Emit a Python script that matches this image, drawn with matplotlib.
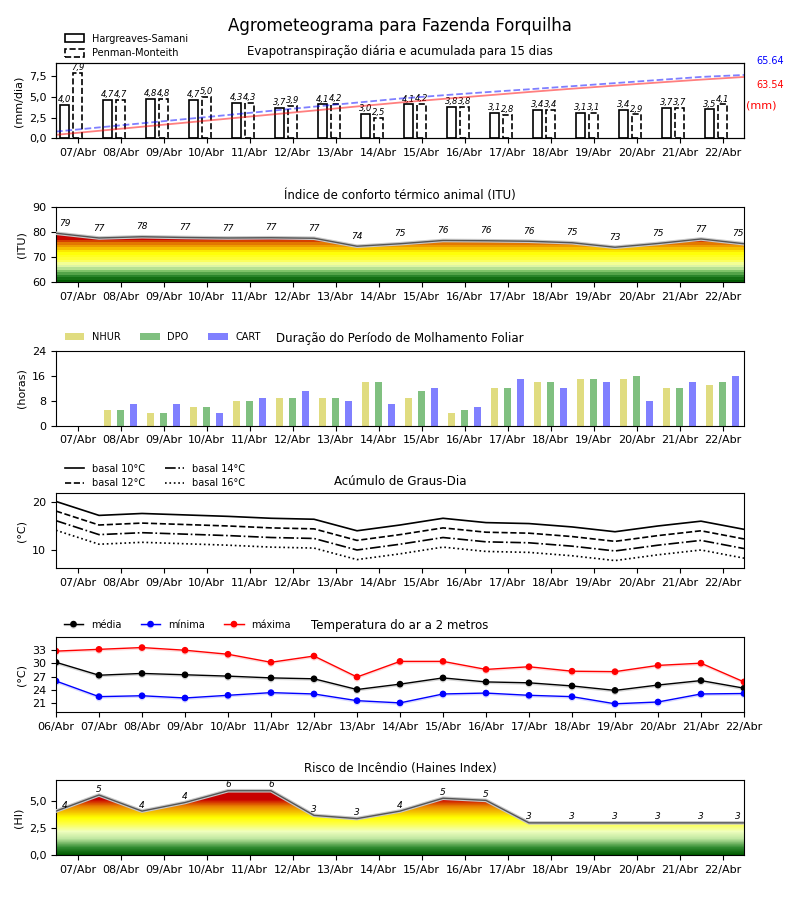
import numpy as np
import matplotlib
matplotlib.use('Agg')
import matplotlib.pyplot as plt
from matplotlib.colors import LinearSegmentedColormap
from matplotlib.patches import Polygon, Patch
from matplotlib.lines import Line2D
from matplotlib.ticker import FuncFormatter
import matplotlib.patheffects as pe

# ---------------- data ----------------
days = ['07/Abr', '08/Abr', '09/Abr', '10/Abr', '11/Abr', '12/Abr', '13/Abr', '14/Abr',
        '15/Abr', '16/Abr', '17/Abr', '18/Abr', '19/Abr', '20/Abr', '21/Abr', '22/Abr']
days17 = ['06/Abr'] + days

et_hs = [4.0, 4.7, 4.8, 4.7, 4.3, 3.7, 4.1, 3.0, 4.1, 3.8, 3.1, 3.4, 3.1, 3.4, 3.7, 3.5]
et_pm = [7.9, 4.7, 4.8, 5.0, 4.3, 3.9, 4.2, 2.5, 4.2, 3.8, 2.8, 3.4, 3.1, 2.9, 3.7, 4.1]
cum_hs = [3.6, 7.8, 12.0, 16.2, 20.4, 24.6, 28.8, 33.0, 37.1, 40.8, 44.4, 48.0, 51.4, 54.6, 57.8, 60.8, 63.54]
cum_pm = [7.0, 11.3, 15.6, 19.9, 24.2, 28.5, 32.8, 37.0, 41.2, 44.6, 47.8, 50.8, 54.0, 57.2, 60.4, 63.6, 65.64]

itu = [79.5, 77.6, 78.1, 77.8, 77.6, 77.7, 77.5, 74.3, 75.3, 76.6, 76.5, 76.3, 75.7, 73.9, 75.4, 77.2, 75.3]

wet_nhur = [0, 5, 4, 6, 8, 9, 9, 14, 9, 4, 12, 14, 15, 15, 12, 13]
wet_dpo = [0, 5, 4, 6, 8, 9, 9, 14, 11, 5, 12, 14, 15, 16, 12, 14]
wet_cart = [0, 7, 7, 4, 9, 11, 8, 7, 12, 6, 15, 12, 14, 8, 14, 16]

gdd10 = [20.2, 17.3, 17.7, 17.4, 17.1, 16.7, 16.5, 14.1, 15.3, 16.7, 15.8, 15.6, 14.9, 13.9, 15.1, 16.1, 14.4]
gdd12 = [18.2, 15.3, 15.7, 15.4, 15.1, 14.7, 14.5, 12.1, 13.3, 14.7, 13.8, 13.6, 12.9, 11.9, 13.1, 14.1, 12.4]
gdd14 = [16.2, 13.3, 13.7, 13.4, 13.1, 12.7, 12.5, 10.1, 11.3, 12.7, 11.8, 11.6, 10.9, 9.9, 11.1, 12.1, 10.4]
gdd16 = [14.2, 11.3, 11.7, 11.4, 11.1, 10.7, 10.5, 8.1, 9.3, 10.7, 9.8, 9.6, 8.9, 7.9, 9.1, 10.1, 8.4]

t_med = [30.2, 27.3, 27.7, 27.4, 27.1, 26.7, 26.5, 24.1, 25.3, 26.7, 25.8, 25.6, 24.9, 23.9, 25.1, 26.1, 24.4]
t_min = [26.0, 22.5, 22.7, 22.2, 22.8, 23.4, 23.1, 21.6, 21.1, 23.1, 23.3, 22.8, 22.5, 20.9, 21.3, 23.1, 23.2]
t_max = [32.7, 33.1, 33.5, 32.9, 32.0, 30.2, 31.6, 26.9, 30.4, 30.4, 28.6, 29.2, 28.2, 28.1, 29.5, 30.0, 25.8]

haines = [4.1, 5.6, 4.1, 4.9, 6.0, 6.0, 3.7, 3.4, 4.1, 5.3, 5.1, 3.0, 3.0, 3.0, 3.0, 3.0, 3.0]

# ---------------- helpers ----------------
plt.rcParams['font.family'] = ['DejaVu Sans']
TICK_FS = 8
TITLE_FS = 8.5
LEG_FS = 7

x16 = np.arange(len(days))
x17 = np.arange(len(days17)) - 0.5
XLIM = (-0.5, 15.5)


def comma(v, p=None):
    return f'{v:.1f}'.replace('.', ',')


def make_cmap(nodes, lo, hi):
    lst = [((v - lo) / (hi - lo), tuple(c / 255 for c in col)) for v, col in nodes]
    return LinearSegmentedColormap.from_list('g', lst)


def gradient_fill(ax, x, y, lo, hi, cmap, nlev):
    grad = np.linspace(0, 1, nlev).reshape(-1, 1)
    im = ax.imshow(grad, extent=[x[0], x[-1], lo, hi], origin='lower', aspect='auto',
                   cmap=cmap, interpolation='nearest', zorder=1)
    verts = [(x[0], lo)] + list(zip(x, y)) + [(x[-1], lo)]
    poly = Polygon(verts, closed=True, facecolor='none', edgecolor='none')
    ax.add_patch(poly)
    im.set_clip_path(poly)


def style_axis(ax, labels, positions):
    ax.set_xlim(*XLIM)
    ax.set_xticks(positions)
    ax.set_xticklabels(labels)
    ax.tick_params(labelsize=TICK_FS)


fig = plt.figure(figsize=(8, 9), dpi=100)
fig.suptitle('Agrometeograma para Fazenda Forquilha', fontsize=12, y=0.981)

L, W, H = 0.07, 0.86, 0.0833
bottoms = [0.8463, 0.6867, 0.527, 0.3686, 0.2086, 0.05]
axs = [fig.add_axes([L, b, W, H]) for b in bottoms]

# ---------- Panel 1: evapotranspiration ----------
ax = axs[0]
bw = 0.2
ax.bar(x16 - 0.3, et_hs, width=bw, facecolor='white', edgecolor='black', linewidth=1.2, zorder=2)
ax.bar(x16, et_pm, width=bw, facecolor='white', edgecolor='black', linewidth=1.2,
       linestyle='--', zorder=2)
for xi, v in zip(x16, et_hs):
    ax.text(xi - 0.3, v + 0.1, comma(v), ha='center', va='bottom', fontsize=6, style='italic')
for xi, v in zip(x16, et_pm):
    ax.text(xi, v + 0.1, comma(v), ha='center', va='bottom', fontsize=6, style='italic')
ax.set_ylim(0, 9.085)
ax.set_yticks([0, 2.5, 5.0, 7.5])
ax.yaxis.set_major_formatter(FuncFormatter(comma))
style_axis(ax, days, x16)
ax.set_ylabel('(mm/dia)', fontsize=8)
ax.set_title('Evapotranspiração diária e acumulada para 15 dias', fontsize=TITLE_FS)
h1 = Patch(facecolor='white', edgecolor='black', linewidth=1.2, label='Hargreaves-Samani')
h2 = Patch(facecolor='white', edgecolor='black', linewidth=1.2, linestyle='--', label='Penman-Monteith')
ax.legend(handles=[h1, h2], loc='lower left', bbox_to_anchor=(0.006, 1), frameon=False,
          fontsize=LEG_FS, borderaxespad=0.1, handleheight=0.9)
axb = ax.twinx()
axb.plot(x17, cum_hs, color='red', alpha=0.5, lw=1.3)
axb.plot(x17, cum_pm, color='blue', alpha=0.5, lw=1.3, ls='--')
axb.set_ylim(0, 77.65)
axb.set_yticks([])
axb.set_xlim(*XLIM)
fig.text(756 / 800, 1 - 61 / 900, f'{cum_pm[-1]:.2f}', color='blue', fontsize=7, va='center')
fig.text(756 / 800, 1 - 85 / 900, f'{cum_hs[-1]:.2f}', color='red', fontsize=7, va='center')
fig.text(746 / 800, 1 - 105.5 / 900, '(mm)', color='red', fontsize=8, va='center')

# ---------- Panel 2: ITU ----------
ax = axs[1]
itu_cmap = make_cmap([(60, (0, 90, 0)), (62, (40, 130, 40)), (64, (120, 190, 100)),
                      (65.5, (200, 235, 160)), (67, (240, 255, 170)), (69, (255, 255, 60)),
                      (72, (255, 255, 0)), (74, (245, 180, 0)), (76, (225, 110, 0)),
                      (78, (200, 0, 0)), (82, (200, 0, 0))], 60, 82)
gradient_fill(ax, x17, itu, 60, 82, itu_cmap, 22)
ax.plot(x17, itu, color='#555555', lw=1.0, zorder=3,
        path_effects=[pe.Stroke(linewidth=2.6, foreground='#c8c8c8'), pe.Normal()])
for i, (xi, v) in enumerate(zip(x17, itu)):
    xx = xi
    if i == 0:
        xx = -0.3
    if i == len(itu) - 1:
        xx = 15.35
    ax.text(xx, v + 3.9, str(int(v)), ha='center', va='center', fontsize=6.5, style='italic')
ax.set_ylim(60, 90)
ax.set_yticks([60, 70, 80, 90])
style_axis(ax, days, x16)
ax.set_ylabel('(ITU)', fontsize=8)
ax.set_title('Índice de conforto térmico animal (ITU)', fontsize=TITLE_FS)

# ---------- Panel 3: leaf wetness ----------
ax = axs[2]
bw3 = 0.18
ax.bar(x16 - 0.3, wet_nhur, width=bw3, color='#e0dc80', label='NHUR')
ax.bar(x16, wet_dpo, width=bw3, color='#80c080', label='DPO')
ax.bar(x16 + 0.3, wet_cart, width=bw3, color='#8080ff', label='CART')
ax.set_ylim(0, 24)
ax.set_yticks([0, 8, 16, 24])
style_axis(ax, days, x16)
ax.set_ylabel('(horas)', fontsize=8)
ax.set_title('Duração do Período de Molhamento Foliar', fontsize=TITLE_FS)
ax.legend(loc='lower left', bbox_to_anchor=(0, 1), ncol=3, frameon=False, fontsize=LEG_FS,
          borderaxespad=0.5)

# ---------- Panel 4: degree days ----------
ax = axs[3]
ax.plot(x17, gdd10, color='black', lw=1.2, ls='-', label='basal 10°C')
ax.plot(x17, gdd12, color='black', lw=1.2, ls='--', label='basal 12°C')
ax.plot(x17, gdd14, color='black', lw=1.2, ls='-.', label='basal 14°C')
ax.plot(x17, gdd16, color='black', lw=1.2, ls=':', label='basal 16°C')
ax.set_ylim(6.3, 21.9)
ax.set_yticks([10, 20])
style_axis(ax, days, x16)
ax.set_ylabel('(°C)', fontsize=8)
ax.set_title('Acúmulo de Graus-Dia', fontsize=TITLE_FS)
ax.legend(loc='lower left', bbox_to_anchor=(0.006, 1), ncol=2, frameon=False, fontsize=LEG_FS,
          borderaxespad=0.1)

# ---------- Panel 5: air temperature ----------
ax = axs[4]
for ser, col, lab in [(t_med, 'black', 'média'), (t_min, 'blue', 'mínima'), (t_max, 'red', 'máxima')]:
    ax.plot(x17, ser, color=col, lw=1.0, marker='o', markersize=3.8, label=lab,
            path_effects=[pe.SimpleLineShadow(offset=(0, -1), shadow_color=col, alpha=0.15),
                          pe.Normal()])
ax.set_ylim(19.0, 35.8)
ax.set_yticks([21, 24, 27, 30, 33])
style_axis(ax, days17, x17)
ax.set_ylabel('(°C)', fontsize=8)
ax.set_title('Temperatura do ar a 2 metros', fontsize=TITLE_FS)
ax.legend(loc='lower left', bbox_to_anchor=(0, 1), ncol=3, frameon=False, fontsize=LEG_FS,
          borderaxespad=0.4)

# ---------- Panel 6: Haines ----------
ax = axs[5]
h_cmap = make_cmap([(0, (0, 90, 0)), (0.7, (50, 140, 50)), (1.5, (190, 230, 160)),
                    (2.2, (240, 255, 190)), (3.0, (255, 255, 60)), (3.5, (255, 255, 0)),
                    (4.5, (235, 140, 0)), (5.2, (200, 0, 0)), (7.0, (200, 0, 0))], 0, 7.0)
gradient_fill(ax, x17, haines, 0, 7.0, h_cmap, 256)
ax.plot(x17, haines, color='#555555', lw=1.0, zorder=3,
        path_effects=[pe.Stroke(linewidth=2.6, foreground='#c8c8c8'), pe.Normal()])
for i, (xi, v) in enumerate(zip(x17, haines)):
    xx = xi
    if i == 0:
        xx = -0.3
    if i == len(haines) - 1:
        xx = 15.35
    ax.text(xx, v + 0.55, str(int(v)), ha='center', va='center', fontsize=6.5, style='italic')
ax.set_ylim(0, 7.0)
ax.set_yticks([0, 2.5, 5.0])
ax.yaxis.set_major_formatter(FuncFormatter(comma))
style_axis(ax, days, x16)
ax.set_ylabel('(HI)', fontsize=8)
ax.set_title('Risco de Incêndio (Haines Index)', fontsize=TITLE_FS)

fig.savefig('out.png', dpi=100)
